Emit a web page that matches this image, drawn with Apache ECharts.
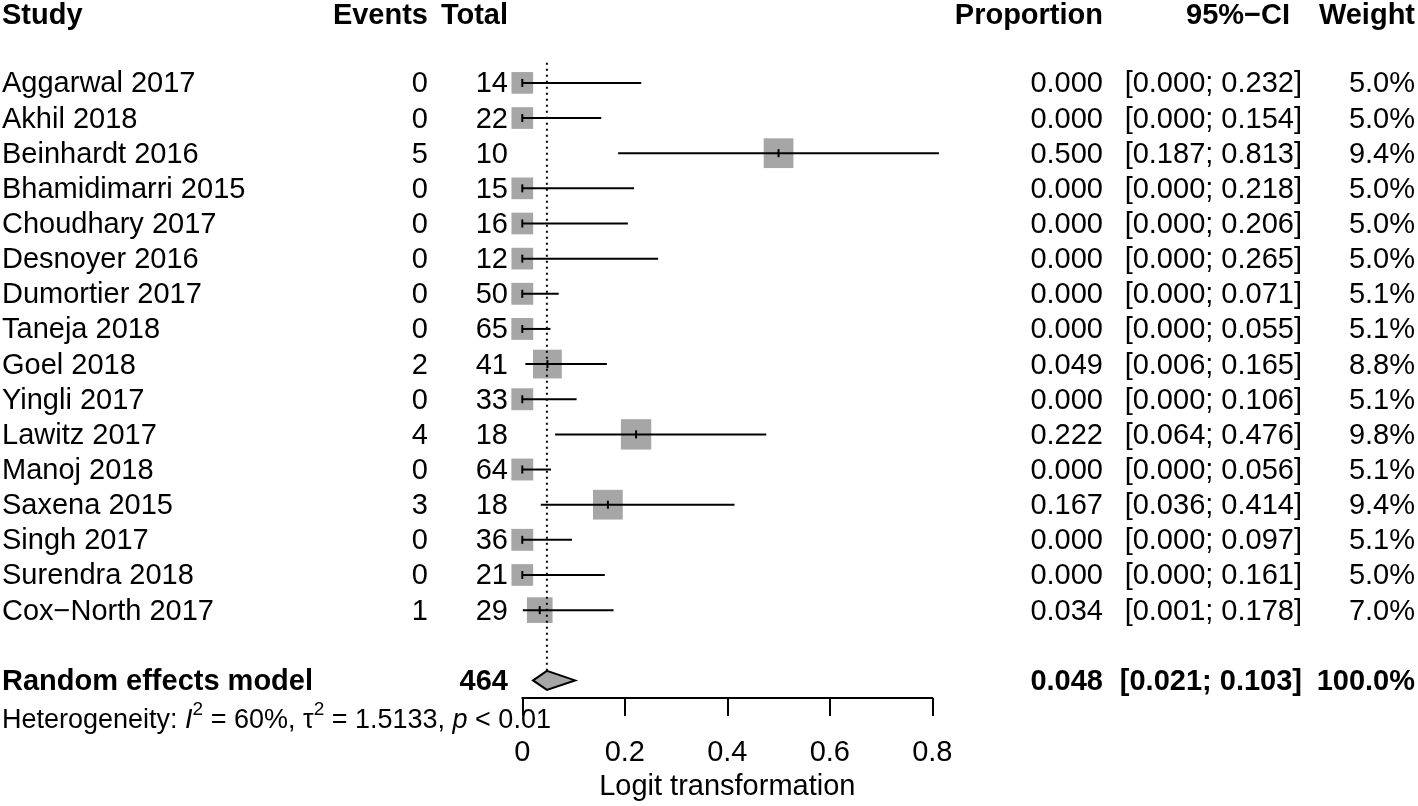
<!DOCTYPE html>
<html>
<head>
<meta charset="utf-8">
<script src="https://cdn.jsdelivr.net/npm/echarts@6/dist/echarts.min.js"></script>
<style>
html,body{margin:0;padding:0;background:#fff;}
#chart{width:1418px;height:806px;}
</style>
</head>
<body>
<div id="chart"></div>
<script>
const studies = ['Aggarwal 2017','Akhil 2018','Beinhardt 2016','Bhamidimarri 2015','Choudhary 2017','Desnoyer 2016','Dumortier 2017','Taneja 2018','Goel 2018','Yingli 2017','Lawitz 2017','Manoj 2018','Saxena 2015','Singh 2017','Surendra 2018','Cox\u2212North 2017'];
const events = [0,0,5,0,0,0,0,0,2,0,4,0,3,0,0,1];
const totals = [14,22,10,15,16,12,50,65,41,33,18,64,18,36,21,29];
const proportions = [0.000,0.000,0.500,0.000,0.000,0.000,0.000,0.000,0.049,0.000,0.222,0.000,0.167,0.000,0.000,0.034];
const ciLower = [0.000,0.000,0.187,0.000,0.000,0.000,0.000,0.000,0.006,0.000,0.064,0.000,0.036,0.000,0.000,0.001];
const ciUpper = [0.232,0.154,0.813,0.218,0.206,0.265,0.071,0.055,0.165,0.106,0.476,0.056,0.414,0.097,0.161,0.178];
const weights = [5.0,5.0,9.4,5.0,5.0,5.0,5.1,5.1,8.8,5.1,9.8,5.1,9.4,5.1,5.0,7.0];
const headers = ['Study','Events','Total','Proportion','95%\u2212CI','Weight'];
const pooledLabel = ['Random effects model'];
const pooledTotal = [464];
const pooledEstimate = [0.048];
const pooledLower = [0.021];
const pooledUpper = [0.103];
const pooledWeight = [100.0];
const heterogeneityI2 = ['60%'];
const heterogeneityTau2 = ['1.5133'];
const heterogeneityP = ['0.01'];
const xTickValues = [0, 0.2, 0.4, 0.6, 0.8];
const xAxisTitle = 'Logit transformation';

const FONT = 'Liberation Sans, Arial, Helvetica, sans-serif';
const FS = 29;
const FS_HET = 27;
const TEXT_DY = 1.5;
// column anchors (pixels)
const COL = {study:2, events:428, total:508, prop:1103, ci:1302, ciHead:1290, weight:1415};
const ROW_HEADER = -1.96, ROW_POOLED = 17, ROW_HET = 18.0;

const chart = echarts.init(document.getElementById('chart'), null, {renderer:'canvas'});

function txt(text, x, y, align, bold){
  return {
    type:'text',
    style:{text:text, x:x, y:y+TEXT_DY, align:align, verticalAlign:'middle',
      fontSize:FS, fontFamily:FONT, fontWeight: bold?'bold':'normal', fill:'#000'}
  };
}

const tableData = studies.map((s,i)=>[0,i]);

const option = {
  animation:false,
  backgroundColor:'#fff',
  textStyle:{fontFamily:FONT},
  grid:{left:522.3, right:1418-932.3, top:12.6, bottom:107, containLabel:false},
  xAxis:{
    type:'value', min:xTickValues[0], max:xTickValues[xTickValues.length-1], interval:0.2,
    position:'bottom',
    axisLine:{show:true, onZero:false, lineStyle:{color:'#000', width:2}},
    axisTick:{show:true, inside:false, length:18, lineStyle:{color:'#000', width:2}},
    axisLabel:{show:true, color:'#000', fontSize:FS, fontFamily:FONT, margin:40,
      formatter:function(v){ return String(Math.round(v*10)/10); }},
    splitLine:{show:false},
    name:xAxisTitle, nameLocation:'middle', nameGap:74,
    nameTextStyle:{color:'#000', fontSize:FS, fontFamily:FONT}
  },
  yAxis:{type:'value', min:-2, max:17.5, inverse:true, show:false},
  series:[
    {
      type:'line', data:[[pooledEstimate[0], -0.57],[pooledEstimate[0], 16.73]],
      showSymbol:false, symbol:'none', silent:true,
      lineStyle:{color:'#000', width:2, type:[2,4]}
    },
    {
      type:'custom', clip:false, silent:true,
      data: studies.map((s,i)=>[proportions[i], i, ciLower[i], ciUpper[i], weights[i]]),
      renderItem:function(params, api){
        const y = api.value(1);
        const c = api.coord([api.value(0), y]);
        const lo = api.coord([api.value(2), y]);
        const hi = api.coord([api.value(3), y]);
        const size = 9.7*Math.sqrt(api.value(4));
        return {type:'group', children:[
          {type:'rect', shape:{x:c[0]-size/2, y:c[1]-size/2, width:size, height:size},
            style:{fill:'#a6a6a6', stroke:null}},
          {type:'line', shape:{x1:lo[0], y1:lo[1], x2:hi[0], y2:hi[1]},
            style:{stroke:'#000', lineWidth:2}},
          {type:'line', shape:{x1:c[0], y1:c[1]-4, x2:c[0], y2:c[1]+4},
            style:{stroke:'#000', lineWidth:2}}
        ]};
      }
    },
    {
      type:'custom', clip:false, silent:true,
      data:[[pooledEstimate[0], ROW_POOLED, pooledLower[0], pooledUpper[0]]],
      renderItem:function(params, api){
        const y = api.value(1);
        const c = api.coord([api.value(0), y]);
        const lo = api.coord([api.value(2), y]);
        const hi = api.coord([api.value(3), y]);
        const h = 9.5;
        return {type:'polygon', shape:{points:[[lo[0],c[1]],[c[0],c[1]-h],[hi[0],c[1]],[c[0],c[1]+h]]},
          style:{fill:'#a6a6a6', stroke:'#000', lineWidth:2}};
      }
    },
    {
      type:'custom', clip:false, silent:true,
      data: tableData,
      renderItem:function(params, api){
        const i = api.value(1);
        const y = api.coord([0, i])[1];
        return {type:'group', children:[
          txt(studies[i], COL.study, y, 'left'),
          txt(String(events[i]), COL.events, y, 'right'),
          txt(String(totals[i]), COL.total, y, 'right'),
          txt(proportions[i].toFixed(3), COL.prop, y, 'right'),
          txt('['+ciLower[i].toFixed(3)+'; '+ciUpper[i].toFixed(3)+']', COL.ci, y, 'right'),
          txt(weights[i].toFixed(1)+'%', COL.weight, y, 'right')
        ]};
      }
    },
    {
      type:'custom', clip:false, silent:true,
      data:[[0, ROW_HEADER]],
      renderItem:function(params, api){
        const yh = api.coord([0, ROW_HEADER])[1];
        const yp = api.coord([0, ROW_POOLED])[1];
        const yt = api.coord([0, ROW_HET])[1];
        return {type:'group', children:[
          txt(headers[0], COL.study, yh, 'left', true),
          txt(headers[1], COL.events, yh, 'right', true),
          txt(headers[2], COL.total, yh, 'right', true),
          txt(headers[3], COL.prop, yh, 'right', true),
          txt(headers[4], COL.ciHead, yh, 'right', true),
          txt(headers[5], COL.weight, yh, 'right', true),
          txt(pooledLabel[0], COL.study, yp, 'left', true),
          txt(String(pooledTotal[0]), COL.total, yp, 'right', true),
          txt(pooledEstimate[0].toFixed(3), COL.prop, yp, 'right', true),
          txt('['+pooledLower[0].toFixed(3)+'; '+pooledUpper[0].toFixed(3)+']', COL.ci, yp, 'right', true),
          txt(pooledWeight[0].toFixed(1)+'%', COL.weight, yp, 'right', true),
          {type:'text', style:{
            x:COL.study, y:yt+TEXT_DY, align:'left', verticalAlign:'middle',
            text:'{n|Heterogeneity: }{i|I}{s|2}{n| = '+heterogeneityI2[0]+', \u03c4}{s|2}{n| = '+heterogeneityTau2[0]+', }{i|p}{n| < '+heterogeneityP[0]+'}',
            fontSize:FS_HET, fontFamily:FONT, fill:'#000',
            rich:{
              n:{fontSize:FS_HET, fontFamily:FONT, fill:'#000', lineHeight:34, verticalAlign:'bottom'},
              i:{fontSize:FS_HET, fontFamily:FONT, fontStyle:'italic', fill:'#000', lineHeight:34, verticalAlign:'bottom'},
              s:{fontSize:19, fontFamily:FONT, fill:'#000', lineHeight:19, verticalAlign:'top'}
            }
          }}
        ]};
      }
    }
  ]
};
chart.setOption(option);
</script>
</body>
</html>
